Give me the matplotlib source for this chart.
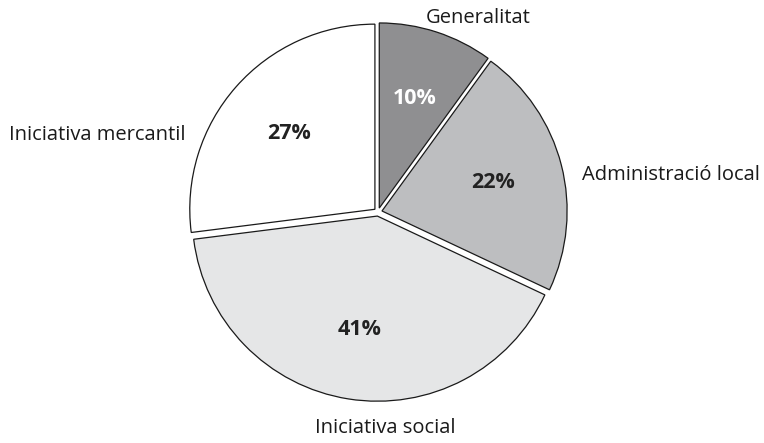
import matplotlib
matplotlib.use('Agg')
from matplotlib import pyplot as plt

# data
labels = ['Generalitat', 'Administració local', 'Iniciativa social', 'Iniciativa mercantil']
shares = [10, 22, 41, 27]
colors = ['#8f8f91', '#bdbec0', '#e5e6e7', '#ffffff']
pct_colors = ['white', '#222222', '#222222', '#222222']

# label placement (in pie radius units) and alignment
label_pos = [(0.535, 1.037), (1.093, 0.198), (0.037, -1.155), (-1.027, 0.412)]
label_ha = ['center', 'left', 'center', 'right']

plt.rcParams['font.family'] = ['Open Sans', 'DejaVu Sans']

fig = plt.figure(figsize=(7.64, 4.43), dpi=100)
ax = fig.add_axes([0, 0, 1, 1])

wedges, texts, autotexts = ax.pie(
    shares, labels=labels, colors=colors, startangle=90, counterclock=False,
    explode=[0.022] * 4, autopct='%d%%', pctdistance=0.62, radius=0.99,
    wedgeprops={'edgecolor': '#1a1a1a', 'linewidth': 0.9},
    textprops={'fontsize': 14.5, 'color': '#1a1a1a'})

for t, pos, ha in zip(texts, label_pos, label_ha):
    t.set_position(pos)
    t.set_ha(ha)
    t.set_va('center')

for t, c in zip(autotexts, pct_colors):
    t.set_color(c)
    t.set_fontweight('bold')
    t.set_fontsize(15.5)

ax.set_aspect('equal')
ax.set_xlim(-378 / 187, (764 - 378) / 187)
ax.set_ylim(-231 / 187, 212 / 187)
ax.axis('off')

fig.savefig('out.png', dpi=100)
